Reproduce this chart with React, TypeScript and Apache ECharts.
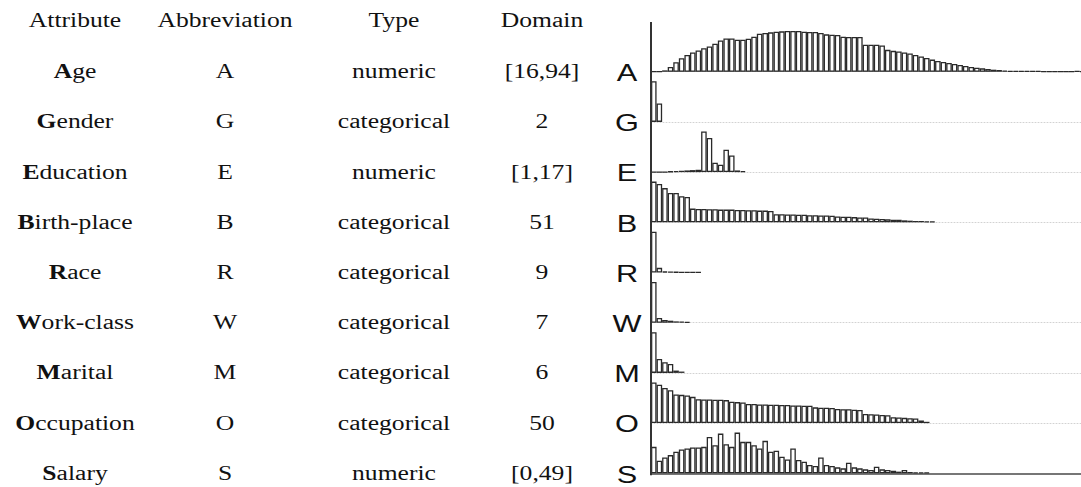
import React, { useEffect, useRef } from 'react';
import * as echarts from 'echarts';

// ---- table content ----
const headers = ['Attribute', 'Abbreviation', 'Type', 'Domain'];
const attributes = ['Age', 'Gender', 'Education', 'Birth-place', 'Race', 'Work-class', 'Marital', 'Occupation', 'Salary'];
const abbreviations = ['A', 'G', 'E', 'B', 'R', 'W', 'M', 'O', 'S'];
const types = ['numeric', 'categorical', 'numeric', 'categorical', 'categorical', 'categorical', 'categorical', 'categorical', 'numeric'];
const domains = ['[16,94]', '2', '[1,17]', '51', '9', '7', '6', '50', '[0,49]'];

// ---- histogram values (relative frequencies) ----
const ageValues = [
  0, 0, 4, 14, 28, 40, 50, 57, 63, 70, 75, 83, 93, 99, 99, 95, 95, 98, 104, 113,
  115, 117, 119, 120, 121, 121, 121, 119, 118, 118, 115, 111, 110, 109, 104, 103, 103, 103, 80, 80,
  80, 78, 65, 62, 60, 57, 54, 50, 45, 41, 36, 32, 29, 26, 23, 20, 17, 14, 12, 10,
  8, 6, 5, 3, 2, 2, 2, 2, 2, 1.5, 1, 1, 1, 1, 0, 0, 1.5, 0, 0,
];
const genderValues = [122, 55];
const educationValues = [0, 0, 0, 2, 3, 4, 5, 6, 7, 122, 102, 28, 22, 67, 50, 5, 3];
const birthplaceValues = [
  125, 118, 105, 90, 90, 80, 78,
  42, 41, 41, 40, 40, 39, 39, 39, 38, 38, 37, 37, 36, 36, 35,
  25, 25, 24, 24, 23, 23, 22, 22, 21, 21, 20,
  18, 17, 17, 16, 15, 15,
  12, 11, 10, 9, 8, 8,
  6, 5, 4, 4, 3, 2,
];
const raceValues = [122, 14, 3, 2, 1.5, 1, 1, 1, 1];
const workclassValues = [122, 14, 8, 6, 4, 3, 2];
const maritalValues = [122, 42, 32, 27, 7, 4];
const occupationValues = [
  124, 117, 107, 100, 87, 86, 84, 80, 73, 72, 72, 71, 71, 70, 65, 64, 63, 58, 58, 57,
  57, 56, 56, 55, 55, 54, 54, 53, 53, 48, 47, 47, 46, 43, 42, 42, 41, 40, 28, 27,
  26, 25, 24, 18, 17, 16, 15, 14, 8, 4,
];
const salaryValues = [
  80, 38, 48, 55, 65, 72, 75, 78, 78, 80,
  110, 85, 120, 88, 80, 123, 95, 95, 85, 75,
  98, 65, 68, 50, 42, 75, 40, 35, 25, 22,
  48, 25, 22, 18, 15, 32, 18, 15, 12, 10,
  20, 12, 10, 8, 5, 10, 4, 3, 3, 2,
];

const histValues = [
  ageValues, genderValues, educationValues, birthplaceValues, raceValues,
  workclassValues, maritalValues, occupationValues, salaryValues,
];

// ---- layout ----
const W = 1100; // slightly wider than the 1081 viewport so the last age bins can run off the edge
const H = 487;
const PLOT_LEFT = 651;
const SLOT_COUNT = 79;
const SLOT_W = 5.57;
const ROW0 = 71.7;
const PITCH = 50.2;
const BAR_H = 40.7;
const SERIF = '"Liberation Serif", "Times New Roman", serif';
const SANS = '"Liberation Sans", Arial, sans-serif';
const STRETCH = 1.28;
const COL_X = [75, 225, 394, 542];
const LETTER_X = 627;

const slotLabels = Array.from({ length: SLOT_COUNT }, (_, i) => String(i));

function baseline(i: number) {
  return ROW0 + i * PITCH;
}

function axisLineFor(i: number) {
  if (i === 0) return { show: true, lineStyle: { color: '#b4b4b4', width: 1, type: 'solid' } };
  if (i === 4) return { show: false };
  if (i === 8) return { show: true, lineStyle: { color: '#4a4a4a', width: 1.5, type: 'solid' } };
  return { show: true, lineStyle: { color: '#d2d2d2', width: 1, type: [1, 2] } };
}

function textEl(x: number, y: number, text: string, extra: any = {}) {
  return {
    type: 'text',
    x,
    y,
    scaleX: STRETCH,
    silent: true,
    style: {
      text,
      fontFamily: SERIF,
      fontSize: 20,
      fill: '#111',
      align: 'center',
      verticalAlign: 'middle',
      ...extra,
    },
  };
}

export default function App() {
  const ref = useRef<HTMLDivElement>(null);

  useEffect(() => {
    if (!ref.current) return;
    const chart = echarts.init(ref.current, undefined, { renderer: 'svg' });

    const grids: any[] = [];
    const xAxes: any[] = [];
    const yAxes: any[] = [];
    const series: any[] = [];

    histValues.forEach((vals, i) => {
      const b = baseline(i);
      grids.push({ left: PLOT_LEFT, top: b - BAR_H, width: SLOT_COUNT * SLOT_W, height: BAR_H });
      xAxes.push({
        type: 'category',
        gridIndex: i,
        data: slotLabels,
        boundaryGap: true,
        axisLine: axisLineFor(i),
        axisTick: { show: false },
        axisLabel: { show: false },
        splitLine: { show: false },
      });
      yAxes.push({
        type: 'value',
        gridIndex: i,
        min: 0,
        max: 'dataMax',
        show: false,
        splitLine: { show: false },
      });
      series.push({
        type: 'bar',
        xAxisIndex: i,
        yAxisIndex: i,
        data: vals,
        barCategoryGap: '0%',
        silent: true,
        itemStyle: { color: '#ffffff', borderColor: '#2a2a2a', borderWidth: 1.3 },
      });
    });

    const graphics: any[] = [];
    headers.forEach((h, c) => graphics.push(textEl(COL_X[c], 20, h)));
    attributes.forEach((name, r) => {
      const y = baseline(r);
      graphics.push(
        textEl(COL_X[0], y, '{b|' + name.charAt(0) + '}{n|' + name.slice(1) + '}', {
          rich: {
            b: { fontFamily: SERIF, fontSize: 20, fontWeight: 'bold', fill: '#111' },
            n: { fontFamily: SERIF, fontSize: 20, fill: '#111' },
          },
        })
      );
      graphics.push(textEl(COL_X[1], y, abbreviations[r]));
      graphics.push(textEl(COL_X[2], y, types[r]));
      graphics.push(textEl(COL_X[3], y, domains[r]));
      graphics.push({
        type: 'text',
        x: LETTER_X,
        y: y + 1,
        scaleX: STRETCH,
        silent: true,
        style: {
          text: abbreviations[r],
          fontFamily: SANS,
          fontSize: 24,
          fill: '#111',
          align: 'center',
          verticalAlign: 'middle',
        },
      });
    });
    graphics.push({
      type: 'line',
      silent: true,
      shape: { x1: PLOT_LEFT, y1: 22, x2: PLOT_LEFT, y2: baseline(8) + 2 },
      style: { stroke: '#333', lineWidth: 2 },
      z: 10,
    });

    chart.setOption({
      animation: false,
      backgroundColor: '#ffffff',
      grid: grids,
      xAxis: xAxes,
      yAxis: yAxes,
      series,
      graphic: graphics,
    });

    return () => chart.dispose();
  }, []);

  return (
    <div
      ref={ref}
      style={{ position: 'fixed', left: 0, top: 0, width: W, height: H, background: '#fff' }}
    />
  );
}
